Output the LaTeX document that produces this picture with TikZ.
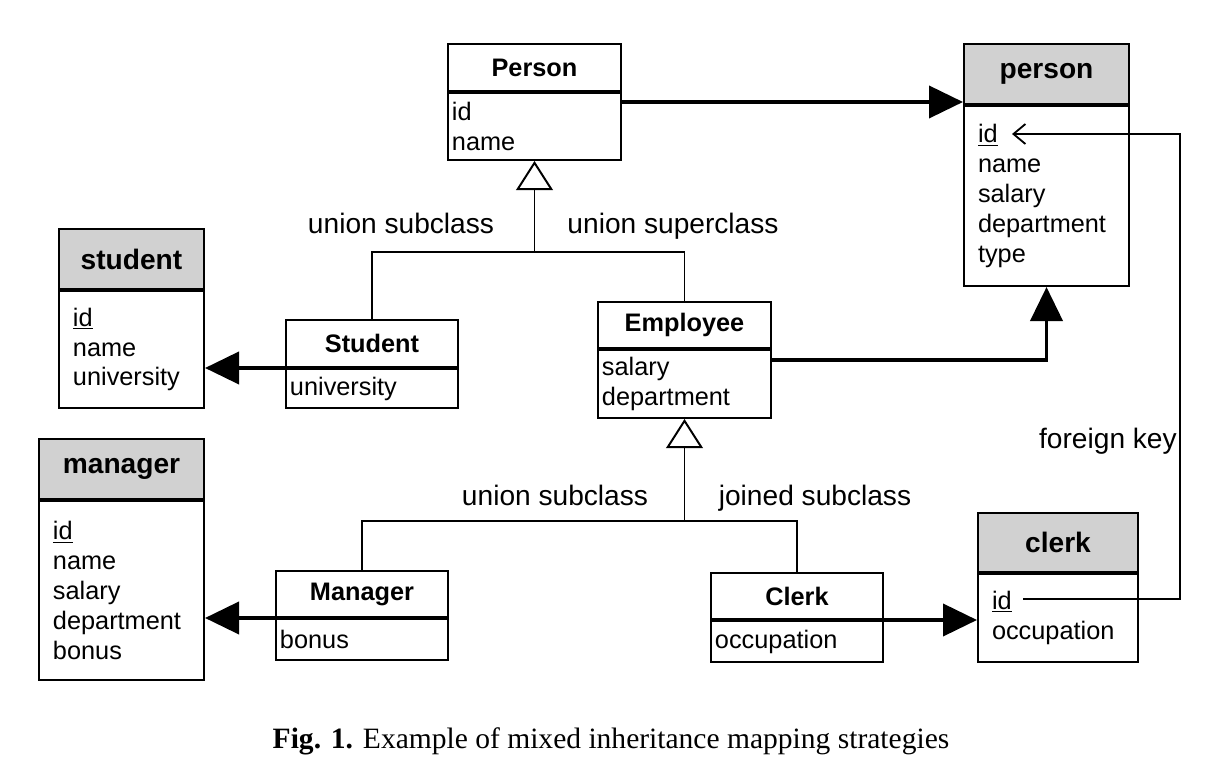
\documentclass[tikz,border=0pt]{standalone}
\usepackage{fontspec}
\setmainfont{Liberation Sans}
\newfontfamily\capfont{Liberation Serif}
\usetikzlibrary{arrows.meta}
\definecolor{hdrgray}{gray}{0.82}
\tikzset{
  box/.style={draw, line width=1.4pt, anchor=north west, inner ysep=0pt},
  chdr/.style={box, font=\fontsize{18}{21.3}\selectfont\bfseries, minimum height=1.175cm},
  thdr/.style={box, fill=hdrgray, font=\fontsize{20}{24}\selectfont\bfseries, minimum height=1.5cm},
  cbody/.style={box, align=left, inner xsep=0.1cm, font=\fontsize{18}{21.3}\selectfont},
  tbody/.style={cbody, inner xsep=0.35cm},
  lbl/.style={anchor=base, inner sep=0pt, font=\fontsize{20}{24}\selectfont},
  assoc/.style={line width=2.8pt, -{Triangle[length=0.85cm,width=0.8cm]}},
  inherit/.style={line width=0.9pt, -{Triangle[open,length=0.73cm,width=0.92cm,line width=1.4pt]}},
  tree/.style={line width=0.9pt},
  fk/.style={line width=1.3pt, -{Straight Barb[length=0.3cm,width=0.5cm]}}
}
\begin{document}
\begin{tikzpicture}[x=0.025cm,y=-0.025cm]
   \useasboundingbox (0,0) rectangle (1220,778);

   % classes
   \node[chdr, minimum width=4.325cm] (Person-h) at (447,43) {Person};
   \node[cbody, text width=4.125cm, minimum height=1.675cm] (Person-b) at (Person-h.south west) {id\\name};
   \node[chdr, minimum width=4.3cm] (Student-h) at (285,319) {Student};
   \node[cbody, text width=4.1cm, minimum height=0.975cm] (Student-b) at (Student-h.south west) {university};
   \node[chdr, minimum width=4.325cm, minimum height=1.15cm] (Employee-h) at (597,301) {Employee};
   \node[cbody, text width=4.125cm, minimum height=1.7cm] (Employee-b) at (Employee-h.south west) {salary\\department};
   \node[chdr, minimum width=4.3cm, minimum height=1.15cm] (Manager-h) at (275,570) {Manager};
   \node[cbody, text width=4.1cm, minimum height=1.025cm] (Manager-b) at (Manager-h.south west) {bonus};
   \node[chdr, minimum width=4.3cm, minimum height=1.15cm] (Clerk-h) at (710,572) {Clerk};
   \node[cbody, text width=4.1cm, minimum height=1.025cm] (Clerk-b) at (Clerk-h.south west) {occupation};

   % tables
   \node[thdr, minimum width=4.125cm] (person-h) at (963,43) {person};
   \node[tbody, text width=3.425cm, minimum height=4.5cm] (person-b) at (person-h.south west) {\underline{id}\\name\\salary\\department\\type};
   \node[thdr, minimum width=3.625cm] (student-h) at (58,228) {student};
   \node[tbody, text width=2.925cm, minimum height=2.925cm] (student-b) at (student-h.south west) {\underline{id}\\name\\university};
   \node[thdr, minimum width=4.125cm] (manager-h) at (38,438) {manager};
   \node[tbody, text width=3.425cm, minimum height=4.475cm] (manager-b) at (manager-h.south west) {\underline{id}\\name\\salary\\department\\bonus};
   \node[thdr, minimum width=4cm, minimum height=1.475cm] (clerk-h) at (977,512) {clerk};
   \node[tbody, text width=3.3cm, minimum height=2.2cm] (clerk-b) at (clerk-h.south west) {\underline{id}\\occupation};

   % labels
   \node[lbl] (lbl-usub1) at (401,233) {union subclass};
   \node[lbl] (lbl-usup) at (673,233) {union superclass};
   \node[lbl] (lbl-usub2) at (555,505) {union subclass};
   \node[lbl] (lbl-jsub) at (815,505) {joined subclass};
   \node[lbl, anchor=base east] (lbl-fk) at (1177,448) {foreign key};

   % inheritance
   \coordinate (bar1) at (0,252);
   \coordinate (bar2) at (0,521);
   \draw[inherit] (Person-b.south |- bar1) -- (Person-b.south);
   \draw[tree] (Student-h.north) |- (Employee-h.north |- bar1) -- (Employee-h.north);
   \draw[inherit] (Employee-b.south |- bar2) -- (Employee-b.south);
   \draw[tree] (Manager-h.north) |- (Clerk-h.north |- bar2) -- (Clerk-h.north);

   % mappings
   \coordinate (pp) at ([yshift=-0.25cm]Person-b.north east);
   \coordinate (ep) at ([yshift=-0.275cm]Employee-b.north east);
   \draw[assoc] (pp) -- (pp -| person-h.west);
   \draw[assoc] (ep) -| (person-b.south);
   \draw[assoc] (Student-h.south west) -- (Student-h.south west -| student-b.east);
   \draw[assoc] (Manager-h.south west) -- (Manager-h.south west -| manager-b.east);
   \draw[assoc] (Clerk-h.south east) -- (Clerk-h.south east -| clerk-b.west);

   % foreign key
   \coordinate (fk-from) at (1023,599);
   \coordinate (fk-bend) at (1180,134);
   \coordinate (fk-to) at (1012,134);
   \draw[fk] (fk-from) -| (fk-bend) -- (fk-to);

   \node[anchor=base, font=\capfont\fontsize{21}{25}\selectfont] (caption) at (611,748) {\textbf{Fig. 1.} Example of mixed inheritance mapping strategies};
\end{tikzpicture}
\end{document}
